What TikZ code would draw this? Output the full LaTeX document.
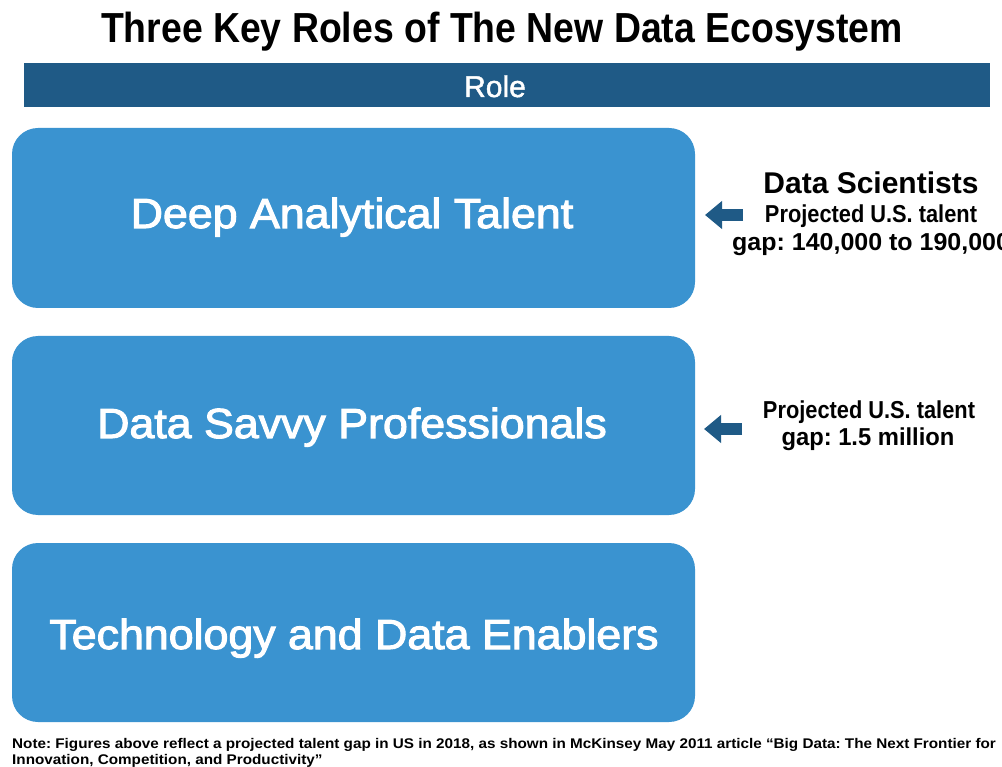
\documentclass[tikz,border=0pt]{standalone}
\usepackage{fontspec}
\setmainfont{Liberation Sans}
\newfontfamily\titlefont[FakeStretch=0.89]{Liberation Sans}
\newfontfamily\boxfont[FakeStretch=1.065,FakeBold=2.5]{Liberation Sans}
\newfontfamily\rolefont[FakeBold=1.5]{Liberation Sans}
\newfontfamily\cond[FakeStretch=0.89]{Liberation Sans}
\newfontfamily\semicond[FakeStretch=0.97]{Liberation Sans}
\newfontfamily\widegap[FakeStretch=1.02]{Liberation Sans}
\newfontfamily\notefont[FakeStretch=1.09]{Liberation Sans}
\usetikzlibrary{arrows.meta}
\definecolor{barblue}{HTML}{1F5A86}
\definecolor{boxblue}{HTML}{3A93D0}
\tikzset{
  rolebox/.style={fill=boxblue, rounded corners=26pt},
  boxtext/.style={text=white, font=\boxfont\fontsize{42}{48}\selectfont, anchor=base, inner sep=0pt},
  sidetext/.style={font=\cond\bfseries\fontsize{24.5}{28}\selectfont, anchor=base, inner sep=0pt},
  gaptext/.style={font=\semicond\bfseries\fontsize{24.5}{28}\selectfont, anchor=base, inner sep=0pt},
  notetext/.style={font=\notefont\bfseries\fontsize{14}{16}\selectfont, anchor=base west, inner sep=0pt},
  gaparrow/.style={draw=barblue, line width=12pt, -{Triangle[width=27pt,length=17pt]}}
}
\frenchspacing
\begin{document}
\begin{tikzpicture}[x=1pt,y=-1pt]
\useasboundingbox (0,0) rectangle (1002,767);
\clip (0,0) rectangle (1002,767);
\fill[white] (0,0) rectangle (1002,767);
% title
\node[font=\titlefont\bfseries\fontsize{42}{48}\selectfont, anchor=base, inner sep=0pt] (title) at (502,43) {Three Key Roles of The New Data Ecosystem};
% header bar
\fill[barblue] (24,63) rectangle (990,107);
\node[text=white, font=\rolefont\fontsize{30}{34}\selectfont, anchor=base, inner sep=0pt] (role) at (495,97) {Role};
% boxes
\fill[rolebox] (12,128) rectangle (695,308);
\fill[rolebox] (12,336) rectangle (695,515);
\fill[rolebox] (12,543) rectangle (695,722);
\node[boxtext] (b1) at (352,228) {Deep Analytical Talent};
\node[boxtext] (b2) at (352,438) {Data Savvy Professionals};
\node[boxtext] (b3) at (354,649) {Technology and Data Enablers};
% arrows
\coordinate (a1s) at (743,215);
\coordinate (a1e) at (705,215);
\coordinate (a2s) at (742,429);
\coordinate (a2e) at (704,429);
\draw[gaparrow] (a1s) -- (a1e);
\draw[gaparrow] (a2s) -- (a2e);
% side texts
\node[font=\bfseries\fontsize{30}{34}\selectfont, anchor=base, inner sep=0pt] (ds) at (871,194) {Data Scientists};
\node[sidetext] (p1) at (871,223) {Projected U.S. talent};
\node[font=\widegap\bfseries\fontsize{24.5}{28}\selectfont, anchor=base west, inner sep=0pt] (g1) at (732,251) {gap: 140,000 to 190,000};
\node[sidetext] (p2) at (869,419) {Projected U.S. talent};
\node[gaptext] (g2) at (868,446) {gap: 1.5 million};
% note
\node[notetext] (n1) at (12,748) {Note: Figures above reflect a projected talent gap in US in 2018, as shown in McKinsey May 2011 article “Big Data: The Next Frontier for};
\node[notetext] (n2) at (12,764) {Innovation, Competition, and Productivity”};
\end{tikzpicture}
\end{document}
